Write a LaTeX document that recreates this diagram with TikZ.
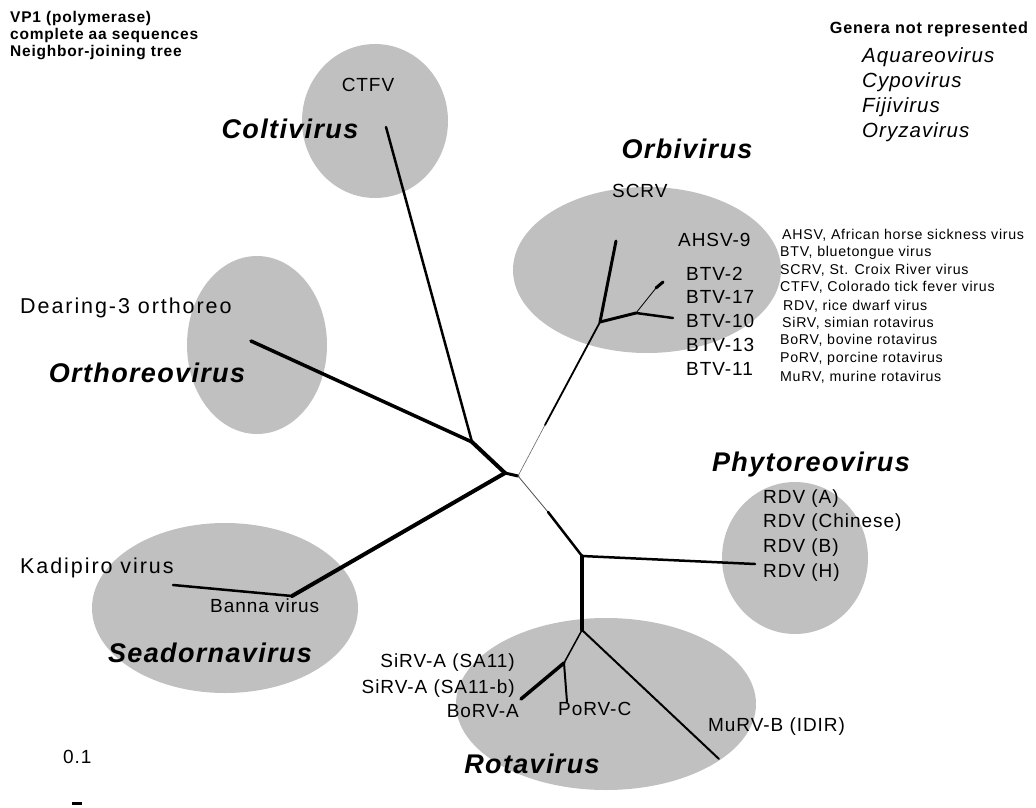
\documentclass[tikz,border=0pt]{standalone}
\usepackage{fontspec}
\setmainfont{Liberation Sans}[LetterSpace=5]
\usetikzlibrary{positioning}
\definecolor{blobgray}{HTML}{C0C0C0}

\begin{document}
\begin{tikzpicture}[x=1pt, y=-1pt,
	blob/.style={fill=blobgray, draw=none},
	branch/.style={line width=#1, line cap=round, black},
	branch/.default=3pt,
	genus/.style={font=\fontsize{27}{30}\selectfont\bfseries\itshape, inner sep=0pt, anchor=base},
	taxon/.style={font=\fontsize{19}{22}\selectfont, inner sep=0pt},
	wide/.style={font=\fontsize{21.5}{24}\selectfont\addfontfeature{LetterSpace=9}},
	abbrev/.style={font=\fontsize{14.2}{16}\selectfont, inner sep=0pt, anchor=base west},
	heading/.style={font=\fontsize{15.5}{17}\selectfont\bfseries, inner sep=0pt},
	absent/.style={font=\fontsize{20.5}{23}\selectfont\itshape, inner sep=0pt, anchor=base west}]

	\useasboundingbox (0,0) rectangle (1036,808);

	% Genus clouds
	\fill[blob] (375,121) ellipse [x radius=73pt, y radius=77pt];
	\fill[blob] (257,345) ellipse [x radius=70pt, y radius=89pt];
	\fill[blob] (647,270) ellipse [x radius=134pt, y radius=83pt];
	\fill[blob] (795,558) ellipse [x radius=73pt, y radius=76pt];
	\fill[blob] (225,608) ellipse [x radius=133pt, y radius=85pt];
	\fill[blob] (606,704) ellipse [x radius=150pt, y radius=86pt];

	% Inner nodes of the tree
	\coordinate (nA) at (505,473);
	\coordinate (nB) at (518,476);
	\coordinate (nC) at (472,442);
	\coordinate (nSea) at (292,596);
	\coordinate (nOrb) at (600,322);
	\coordinate (nBtv) at (636,313);
	\coordinate (nPR) at (582,556);
	\coordinate (nRota) at (582,630);
	\coordinate (nRotaA) at (564,663);
	\coordinate (midOrb) at (545,425);
	\coordinate (midPR) at (548,512);
	\coordinate (midBtv) at (656,288);

	% Leaves
	\coordinate (lfCTFV) at (386,127);
	\coordinate (lfDear) at (251,341);
	\coordinate (lfKadi) at (173,585);
	\coordinate (lfSCRV) at (616,241);
	\coordinate (lfBTVa) at (663,282);
	\coordinate (lfBTVb) at (673,318);
	\coordinate (lfRDV) at (755,564);
	\coordinate (lfMuRV) at (719,759);
	\coordinate (lfBoRV) at (521,699);
	\coordinate (lfPoRV) at (567,702);

	% Branches
	\draw[branch=3pt] (nA) -- (nB);
	\draw[branch=4pt] (nA) -- (nC);
	\draw[branch=2.5pt] (nC) -- (lfCTFV);
	\draw[branch=3.5pt] (nC) -- (lfDear);
	\draw[branch=4pt] (nA) -- (nSea);
	\draw[branch=2.5pt] (nSea) -- (lfKadi);
	\draw[branch=0.6pt, black!60] (nB) -- (midOrb);
	\draw[branch=1.8pt] (midOrb) -- (nOrb);
	\draw[branch=3pt] (nOrb) -- (lfSCRV);
	\draw[branch=3pt] (nOrb) -- (nBtv);
	\draw[branch=0.8pt] (nBtv) -- (midBtv);
	\draw[branch=3pt] (midBtv) -- (lfBTVa);
	\draw[branch=2.5pt] (nBtv) -- (lfBTVb);
	\draw[branch=0.8pt, black!70] (nB) -- (midPR);
	\draw[branch=2.5pt] (midPR) -- (nPR);
	\draw[branch=2.5pt] (nPR) -- (lfRDV);
	\draw[branch=3.5pt] (nPR) -- (nRota);
	\draw[branch=2pt] (nRota) -- (lfMuRV);
	\draw[branch=1.5pt] (nRota) -- (nRotaA);
	\draw[branch=3.5pt] (nRotaA) -- (lfBoRV);
	\draw[branch=2pt] (nRotaA) -- (lfPoRV);

	% Genus names
	\node[genus] (gColti) at (290,138) {Coltivirus};
	\node[genus] (gOrbi) at (687,158) {Orbivirus};
	\node[genus] (gOrtho) at (147,382) {Orthoreovirus};
	\node[genus] (gPhyto) at (811,471) {Phytoreovirus};
	\node[genus] (gSea) at (210,662) {Seadornavirus};
	\node[genus] (gRota) at (532,773) {Rotavirus};

	% Taxa
	\node[taxon, anchor=base] (tCTFV) at (368,92) {CTFV};
	\node[taxon, anchor=base west] (tSCRV) at (612,197) {SCRV};
	\node[taxon, anchor=base west] (tAHSV) at (678,246) {AHSV-9};
	\node[taxon, anchor=base west] (tBTV2) at (686,280) {BTV-2};
	\node[taxon, anchor=base west] (tBTV17) at (686,303) {BTV-17};
	\node[taxon, anchor=base west] (tBTV10) at (686,327) {BTV-10};
	\node[taxon, anchor=base west] (tBTV13) at (686,351) {BTV-13};
	\node[taxon, anchor=base west] (tBTV11) at (686,375) {BTV-11};
	\node[taxon, wide, anchor=base west] (tDear) at (20,313) {Dearing-3 orthoreo};
	\node[taxon, wide, anchor=base west] (tKadi) at (20,573) {Kadipiro virus};
	\node[taxon, anchor=base west] (tBanna) at (210,612) {Banna virus};
	\node[taxon, anchor=base west] (tRDVa) at (763,503) {RDV (A)};
	\node[taxon, anchor=base west] (tRDVc) at (763,527) {RDV (Chinese)};
	\node[taxon, anchor=base west] (tRDVb) at (763,552) {RDV (B)};
	\node[taxon, anchor=base west] (tRDVh) at (763,577) {RDV (H)};
	\node[taxon, anchor=base east] (tSA) at (515,667) {SiRV-A (SA11)};
	\node[taxon, anchor=base east] (tSAb) at (515,693) {SiRV-A (SA11-b)};
	\node[taxon, anchor=base east] (tBoRV) at (519,717) {BoRV-A};
	\node[taxon, anchor=base west] (tPoRV) at (558,715) {PoRV-C};
	\node[taxon, anchor=base west] (tMuRV) at (708,731) {MuRV-B (IDIR)};

	% Abbreviations
	\node[abbrev] (ab1) at (782,239) {AHSV, African horse sickness virus};
	\node[abbrev] (ab2) at (780,256) {BTV, bluetongue virus};
	\node[abbrev] (ab3) at (780,274) {SCRV, St. Croix River virus};
	\node[abbrev] (ab4) at (780,291) {CTFV, Colorado tick fever virus};
	\node[abbrev] (ab5) at (783,310) {RDV, rice dwarf virus};
	\node[abbrev] (ab6) at (782,327) {SiRV, simian rotavirus};
	\node[abbrev] (ab7) at (780,344) {BoRV, bovine rotavirus};
	\node[abbrev] (ab8) at (780,362) {PoRV, porcine rotavirus};
	\node[abbrev] (ab9) at (780,381) {MuRV, murine rotavirus};

	% Title
	\node[heading, anchor=base west] (ttl1) at (10,23) {VP1 (polymerase)};
	\node[heading, anchor=base west] (ttl2) at (10,40) {complete aa sequences};
	\node[heading, anchor=base west] (ttl3) at (10,57) {Neighbor-joining tree};

	% Genera not represented
	\node[heading, anchor=base, font=\fontsize{16.2}{18}\selectfont\bfseries] (gnr) at (929,34) {Genera not represented};
	\node[absent] (gAqua) at (862,63) {Aquareovirus};
	\node[absent] (gCypo) at (862,88) {Cypovirus};
	\node[absent] (gFiji) at (862,112) {Fijivirus};
	\node[absent] (gOryza) at (862,137) {Oryzavirus};

	% Scale
	\node[taxon, anchor=base west] (scl) at (63,763) {0.1};
	\coordinate (sbL) at (72,803);
	\coordinate (sbR) at (82,803);
	\draw[line width=3pt] (sbL) -- (sbR);

\end{tikzpicture}
\end{document}
